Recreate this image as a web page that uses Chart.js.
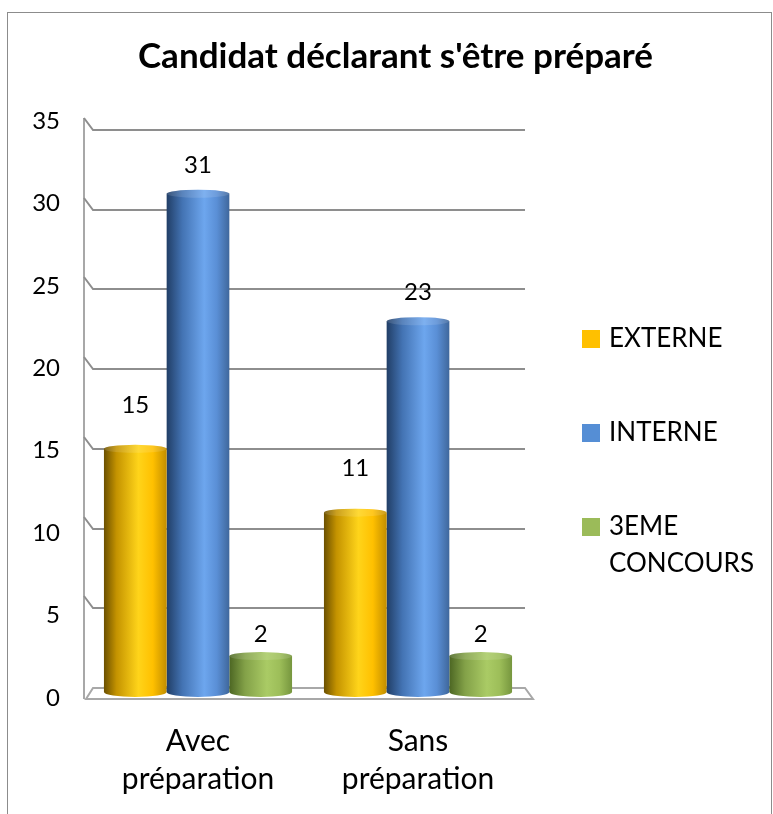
<!DOCTYPE html>
<html><head><meta charset="utf-8">
<script src="https://cdn.jsdelivr.net/npm/chart.js@4.4.1/dist/chart.umd.min.js"></script>
<style>
html,body{margin:0;padding:0;background:#fff;}
#wrap{position:relative;width:773px;height:814px;overflow:hidden;}
#frame{position:absolute;left:7px;top:12px;width:765px;height:830px;border:1px solid #8c8c8c;box-sizing:border-box;}
canvas{position:absolute;left:0;top:0;}
</style></head>
<body><div id="wrap"><div id="frame"></div><canvas id="c" width="773" height="814"></canvas></div>
<script>
// ---- data ----
const chartTitle = "Candidat déclarant s'être préparé";
const categories = [["Avec", "préparation"], ["Sans", "préparation"]];
const seriesNames = ["EXTERNE", "INTERNE", "3EME CONCOURS"];
const externe = [15, 11];
const interne = [31, 23];
const troisieme = [2, 2];
const yTicks = [0, 5, 10, 15, 20, 25, 30, 35];

// ---- style ----
const FONT = "Lato, 'Noto Sans', sans-serif";
const legendColors = ['#FFC000', '#558ED5', '#9BBB59'];
const gradStops = [
  [[0, '#6b5000'], [0.2, '#c49300'], [0.55, '#ffd41a'], [0.78, '#ffc000'], [1, '#c28e00']],
  [[0, '#213e66'], [0.25, '#4373b3'], [0.6, '#6da6ee'], [0.8, '#5a8fd6'], [1, '#3f679c']],
  [[0, '#4c6623'], [0.25, '#83a148'], [0.6, '#aacb65'], [0.8, '#9dbe59'], [1, '#76963e']]
];
const CAT_PCT = 0.855;
const labelLift = [44, 29, 22];
// pixel geometry targets (layout)
const PAD_LEFT = 18;
const AREA_LEFT = 88, AREA_RIGHT = 528;
const AREA_TOP = 115, AREA_BOTTOM = 705;
const GRID_TOP = 130, GRID_BOTTOM = 688;   // back wall: 35 and 0
const LAB_TOP = 121, LAB_BOTTOM = 698;     // tick labels: 35 and 0
const vMax = yTicks[yTicks.length - 1];
const kG = (GRID_BOTTOM - GRID_TOP) / vMax;
const kL = (LAB_BOTTOM - LAB_TOP) / vMax;
const yMin = -(AREA_BOTTOM - GRID_BOTTOM) / kG, yMax = vMax + (GRID_TOP - AREA_TOP) / kG;
const y2Min = -(AREA_BOTTOM - LAB_BOTTOM) / kL, y2Max = vMax + (LAB_TOP - AREA_TOP) / kL;

function cylGrad(ctx) {
  const i = ctx.datasetIndex;
  if (ctx.type !== 'data') return legendColors[i];
  const chart = ctx.chart, xs = chart.scales.x;
  if (!xs || !xs.width) return legendColors[i];
  const n = chart.data.datasets.length;
  const catW = xs.width / chart.data.labels.length;
  const w = catW * CAT_PCT / n;
  const cx = xs.getPixelForValue(ctx.dataIndex) + (i - (n - 1) / 2) * w;
  const g = chart.ctx.createLinearGradient(cx - w / 2, 0, cx + w / 2, 0);
  gradStops[i].forEach(([o, c]) => g.addColorStop(o, c));
  return g;
}

const wallsPlugin = {
  id: 'walls',
  beforeDatasetsDraw(chart) {
    const ctx = chart.ctx, ca = chart.chartArea, y = chart.scales.y;
    const backL = ca.left + 5, frontL = ca.left - 4, backR = ca.right - 3, frontR = ca.right + 5;
    const y0 = y.getPixelForValue(0), yTop = y.getPixelForValue(vMax);
    ctx.save();
    ctx.lineWidth = 2;
    ctx.strokeStyle = '#a8a8a8';
    ctx.beginPath(); ctx.moveTo(frontL, yTop - 12); ctx.lineTo(frontL, y0 + 11); ctx.stroke();
    ctx.strokeStyle = '#8e8e8e';
    yTicks.forEach(v => {
      if (v === 0) return;
      const yb = Math.round(y.getPixelForValue(v));
      ctx.beginPath(); ctx.moveTo(frontL, yb - 12); ctx.lineTo(backL, yb); ctx.lineTo(backR, yb); ctx.stroke();
    });
    ctx.strokeStyle = '#a8a8a8';
    ctx.beginPath();
    ctx.moveTo(frontL + 2, y0 + 11); ctx.lineTo(backL, y0); ctx.lineTo(backR, y0); ctx.lineTo(frontR, y0 + 11); ctx.closePath();
    ctx.stroke();
    chart.data.datasets.forEach((ds, di) => {
      chart.getDatasetMeta(di).data.forEach(el => {
        const w = el.width, b = el.base;
        ctx.fillStyle = el.options.backgroundColor;
        ctx.beginPath();
        ctx.moveTo(el.x - w / 2, b - 2);
        ctx.lineTo(el.x - w / 2, b + 4);
        ctx.ellipse(el.x, b + 4, w / 2, 5, 0, Math.PI, 0, true);
        ctx.lineTo(el.x + w / 2, b - 2);
        ctx.closePath();
        ctx.fill();
      });
    });
    ctx.restore();
  },
  afterDatasetsDraw(chart) {
    const ctx = chart.ctx;
    ctx.save();
    chart.data.datasets.forEach((ds, di) => {
      chart.getDatasetMeta(di).data.forEach((el, i) => {
        const w = el.width;
        ctx.fillStyle = el.options.backgroundColor;
        ctx.beginPath(); ctx.ellipse(el.x, el.y, w / 2, 4, 0, 0, Math.PI * 2); ctx.fill();
        ctx.fillStyle = 'rgba(255,255,255,0.12)';
        ctx.beginPath(); ctx.ellipse(el.x, el.y, w / 2, 4, 0, 0, Math.PI * 2); ctx.fill();
        ctx.fillStyle = '#000';
        ctx.font = "24px " + FONT;
        ctx.textAlign = 'center'; ctx.textBaseline = 'middle';
        ctx.fillText(String(ds.data[i]), el.x, el.y - labelLift[di]);
      });
    });
    ctx.restore();
  }
};

const legendPlugin = {
  id: 'sideLegend',
  afterDraw(chart) {
    const ctx = chart.ctx;
    const boxX = 582, box = 18, textX = 609, rows = [339, 433, 527], lineGap = 37, maxW = 155;
    ctx.save();
    ctx.font = "26px " + FONT;
    ctx.textAlign = 'left'; ctx.textBaseline = 'middle';
    chart.data.datasets.forEach((ds, di) => {
      const yc = rows[di];
      ctx.fillStyle = legendColors[di];
      ctx.fillRect(boxX, yc - box / 2, box, box);
      const words = ds.label.split(' ');
      const lines = []; let cur = '';
      words.forEach(wd => {
        const t = cur ? cur + ' ' + wd : wd;
        if (cur && ctx.measureText(t).width > maxW) { lines.push(cur); cur = wd; } else cur = t;
      });
      lines.push(cur);
      ctx.fillStyle = '#000';
      lines.forEach((ln, k) => ctx.fillText(ln, textX, yc + k * lineGap));
    });
    ctx.restore();
  }
};

const series = [externe, interne, troisieme];
new Chart(document.getElementById('c'), {
  type: 'bar',
  data: {
    labels: categories,
    datasets: series.map((d, i) => ({
      label: seriesNames[i], data: d, backgroundColor: cylGrad, borderWidth: 0,
      xAxisID: 'x', yAxisID: 'y', barPercentage: 1, categoryPercentage: CAT_PCT
    }))
  },
  options: {
    responsive: false, animation: false, events: [],
    layout: { padding: { top: 20, left: PAD_LEFT, right: 0, bottom: 0 } },
    plugins: {
      legend: { display: false }, tooltip: { enabled: false },
      title: { display: true, text: chartTitle, color: '#000', align: 'center',
        font: { family: FONT, size: 35, weight: 'bold', lineHeight: 1.2 },
        padding: { top: 16, bottom: 37 } }
    },
    scales: {
      x: { type: 'category', offset: true, grid: { display: false }, border: { display: false },
        ticks: { font: { family: FONT, size: 30, lineHeight: 1.25 }, color: '#000', padding: 10, maxRotation: 0, autoSkip: false },
        afterFit: s => { s.height = 814 - AREA_BOTTOM; } },
      y: { display: false, min: yMin, max: yMax,
        afterBuildTicks: s => { s.ticks = yTicks.map(v => ({ value: v })); } },
      y2: { position: 'left', min: y2Min, max: y2Max,
        grid: { display: false, drawTicks: false }, border: { display: false },
        ticks: { font: { family: FONT, size: 24 }, color: '#000', padding: 28 },
        afterBuildTicks: s => { s.ticks = yTicks.map(v => ({ value: v })); },
        afterFit: s => { s.width = AREA_LEFT - PAD_LEFT; } },
      yR: { position: 'right', min: 0, max: vMax,
        grid: { display: false, drawTicks: false }, border: { display: false },
        ticks: { display: false },
        afterFit: s => { s.width = 773 - AREA_RIGHT; } }
    }
  },
  plugins: [wallsPlugin, legendPlugin]
});
</script>
</body></html>
